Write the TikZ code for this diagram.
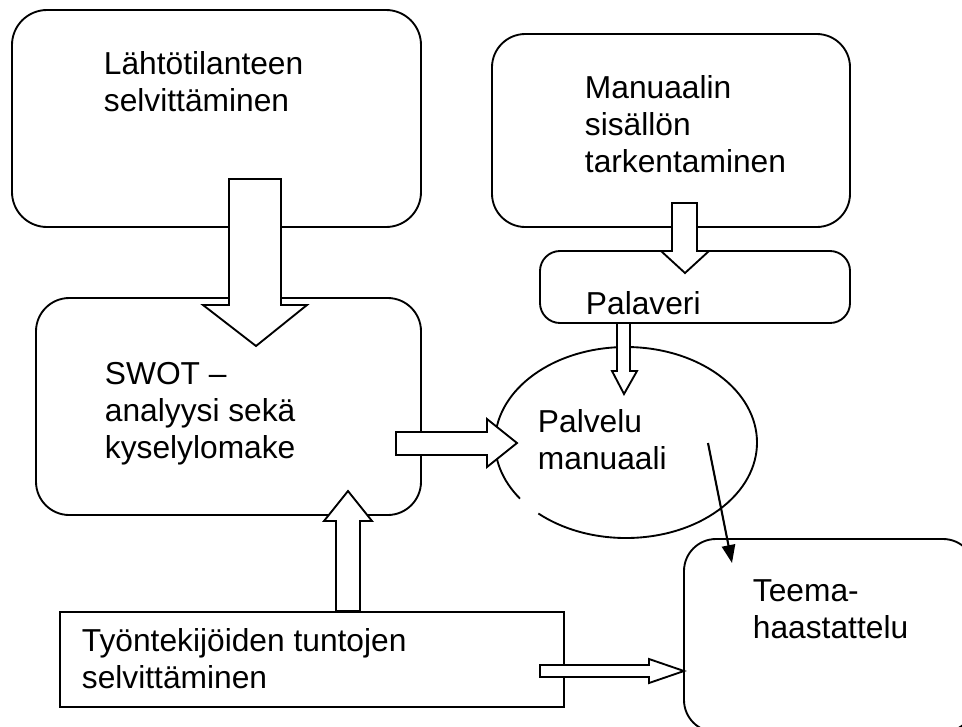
\documentclass[tikz,border=0pt]{standalone}
\usepackage{fontspec}
\setmainfont{Liberation Sans}
\usetikzlibrary{shapes.geometric,arrows.meta}
\begin{document}
\begin{tikzpicture}[x=0.75pt,y=0.75pt,line width=1.4pt,
  box/.style={draw,rectangle,inner sep=0pt,fill=white},
  rbox/.style={box,rounded corners=#1},
  txt/.style={anchor=base west,align=left,inner sep=0pt,font=\fontsize{23.8}{27.6}\selectfont},
  blockarrow/.style={draw,fill=white,line join=miter},
  thinarrow/.style={line width=1.6pt,-{Triangle[length=13.5pt,width=10pt]}}]
\useasboundingbox (0,0) rectangle (962,-726);
\clip (0,0) rectangle (962,-726);
% boxes
\node[rbox=26.25pt,minimum width=306.75pt,minimum height=162.75pt] (lahto) at (216.5,-118.5) {};
\node[rbox=25pt,minimum width=268.5pt,minimum height=144.75pt] (manu) at (671,-130.5) {};
\node[rbox=15pt,minimum width=232.5pt,minimum height=54pt] (pala) at (695,-287) {};
\node[rbox=25pt,minimum width=288.75pt,minimum height=162.75pt] (swot) at (228.5,-406.5) {};
\node[rbox=24pt,minimum width=218.25pt,minimum height=144.75pt] (teema) at (829.5,-635.5) {};
\node[box,minimum width=378pt,minimum height=71.25pt] (tyon) at (312,-659.5) {};
\node[ellipse,inner sep=0pt,minimum width=196.5pt,minimum height=143.25pt] (palv) at (626,-442.5) {};
\draw ([shift={(228:131 and 95.5)}]palv.center) arc[start angle=228,end angle=576,x radius=131,y radius=95.5];
% block arrows
\draw[blockarrow] (229,-179) -- (281,-179) -- (281,-305) -- (307,-305) -- (256,-346) -- (203,-305) -- (229,-305) -- cycle;
\draw[blockarrow] (672,-203) -- (697,-203) -- (697,-251) -- (709,-251) -- (685,-273) -- (661,-251) -- (672,-251) -- cycle;
\draw[blockarrow] (617,-323) -- (630,-323) -- (630,-371) -- (637,-371) -- (624,-394) -- (612,-371) -- (617,-371) -- cycle;
\draw[blockarrow] (396,-432) -- (487,-432) -- (487,-419) -- (517,-443) -- (487,-467) -- (487,-455) -- (396,-455) -- cycle;
\draw[blockarrow] (336,-611) -- (336,-521) -- (324,-521) -- (348,-491) -- (372,-521) -- (360,-521) -- (360,-611) -- cycle;
\draw[blockarrow] (540,-665) -- (649,-665) -- (649,-659) -- (684,-671) -- (649,-683) -- (649,-677) -- (540,-677) -- cycle;
% thin arrow
\coordinate (ea) at (708,-443);
\coordinate (tb) at (732,-563);
\draw[thinarrow] (ea) -- (tb);
% texts (anchored at the baseline of the last line)
\node[txt] (tlahto) at (103,-111) {Lähtötilanteen\\selvittäminen};
\node[txt] (tmanu) at (584,-172) {Manuaalin\\sisällön\\tarkentaminen};
\node[txt] (tpala) at (585,-314) {Palaveri};
\node[txt] (tswot) at (104,-458) {SWOT –\\analyysi sekä\\kyselylomake};
\node[txt] (tpalv) at (537,-469) {Palvelu\\manuaali};
\node[txt] (tteema) at (752,-638) {Teema-\\haastattelu};
\node[txt] (ttyon) at (81,-688) {Työntekijöiden tuntojen\\selvittäminen};
\end{tikzpicture}
\end{document}
